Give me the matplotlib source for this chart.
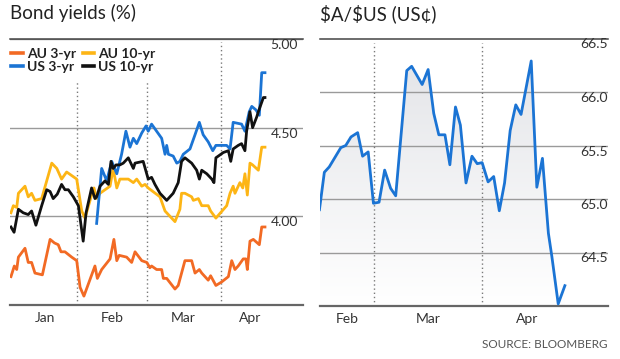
import matplotlib
matplotlib.use("Agg")
import matplotlib.pyplot as plt
import numpy as np
from matplotlib.lines import Line2D
from matplotlib.transforms import blended_transform_factory

plt.rcParams["font.family"] = ["Lato", "DejaVu Sans"]

# x values are day-of-year (2024)
au3_days = [4.4, 5.8, 6.8, 7.5, 10.25, 11.6, 13.0, 14.4, 17.5, 20.7, 22.5, 24.1, 25.25, 26.9, 29.7,
            31.8, 33.2, 34.8, 39.4, 40.4, 42.2, 45.7, 47.3, 48.5, 49.5, 52.6, 54.7, 56.1, 58.9, 61.0,
            62.3, 63.0, 65.1, 67.2, 67.9, 69.3, 72.75, 74.1, 75.5, 76.9, 79.7, 81.1, 82.9, 83.9, 86.6,
            87.6, 89.8, 92.2, 95.0, 96.4, 97.75, 99.1, 101.2, 102.3, 102.9, 104.0, 105.4, 107.9,
            108.9, 110.25]
au3_vals = [3.66, 3.72, 3.70, 3.77, 3.82, 3.74, 3.74, 3.68, 3.67, 3.87, 3.85, 3.84, 3.80, 3.80, 3.77,
            3.75, 3.60, 3.55, 3.72, 3.65, 3.70, 3.76, 3.87, 3.75, 3.78, 3.77, 3.74, 3.80, 3.75, 3.74,
            3.71, 3.72, 3.70, 3.70, 3.65, 3.65, 3.59, 3.61, 3.68, 3.75, 3.75, 3.68, 3.70, 3.68, 3.64,
            3.665, 3.61, 3.63, 3.66, 3.75, 3.70, 3.72, 3.76, 3.76, 3.70, 3.86, 3.87, 3.84,
            3.94, 3.94]

au10_days = [4.4, 5.4, 6.8, 7.5, 10.25, 11.6, 13.0, 14.4, 17.2, 21.4, 23.5, 25.5, 27.6, 31.8, 33.9,
             35.25, 38.0, 39.0, 40.1, 41.5, 45.7, 47.0, 48.5, 49.8, 53.3, 55.4, 56.8, 58.9, 60.25,
             61.6, 66.5, 68.6, 72.75, 74.8, 75.5, 76.9, 79.7, 80.4, 82.5, 83.9, 86.6, 87.6, 89.8,
             94.3, 95.7, 97.0, 97.75, 99.8, 101.0, 101.9, 102.9, 104.0, 105.1, 107.5, 108.9, 110.25]
au10_vals = [4.02, 4.06, 4.05, 4.13, 4.17, 4.11, 4.13, 4.09, 4.10, 4.30, 4.27, 4.21, 4.25, 4.21, 4.03,
             3.99, 4.12, 4.16, 4.10, 4.13, 4.17, 4.27, 4.16, 4.21, 4.21, 4.19, 4.21, 4.17, 4.18,
             4.16, 4.11, 4.03, 3.97, 4.04, 4.13, 4.13, 4.11, 4.09, 4.10, 4.06, 4.06, 4.03, 3.99,
             4.06, 4.13, 4.17, 4.13, 4.19, 4.16, 4.24, 4.12, 4.30, 4.29, 4.26, 4.39, 4.39]

us3_days = [40.1, 42.2, 44.3, 46.4, 48.5, 50.5, 52.3, 54.0, 55.4, 56.8, 58.9, 60.7, 61.6, 63.0, 65.1,
            67.2, 68.6, 69.3, 70.0, 72.0, 73.5, 74.8, 76.2, 79.0, 81.1, 82.9, 84.5, 86.6, 88.5, 89.8,
            94.3, 95.7, 97.0, 100.5, 101.9, 103.7, 104.75, 106.5, 107.9, 108.9, 110.25]
us3_vals = [3.96, 4.27, 4.20, 4.31, 4.24, 4.35, 4.48, 4.39, 4.44, 4.41, 4.47, 4.51, 4.48, 4.52, 4.48,
            4.44, 4.35, 4.40, 4.35, 4.34, 4.30, 4.31, 4.35, 4.38, 4.46, 4.53, 4.46, 4.42, 4.37, 4.40,
            4.40, 4.38, 4.53, 4.52, 4.48, 4.59, 4.62, 4.60, 4.57, 4.81, 4.81]

us10_days = [4.4, 5.7, 7.5, 9.5, 11.6, 13.0, 14.8, 17.2, 19.3, 20.7, 22.0, 23.7, 25.5, 26.9, 28.3,
             30.4, 32.5, 34.5, 35.7, 38.0, 39.4, 40.1, 41.5, 43.6, 45.0, 46.1, 47.0, 48.2, 49.8, 51.2,
             53.3, 55.4, 56.1, 59.5, 61.6, 63.0, 64.4, 66.5, 69.3, 72.0, 74.1, 75.5, 76.9, 79.7,
             81.8, 82.9, 83.9, 86.0, 88.1, 89.0, 89.8, 92.9, 95.0, 96.0, 97.0, 99.1, 100.5, 101.9,
             102.6, 104.0, 105.1, 106.8, 107.5, 109.6, 110.25]
us10_vals = [3.94, 3.91, 4.04, 4.02, 4.01, 4.03, 3.95, 4.06, 4.15, 4.14, 4.10, 4.125, 4.18, 4.15, 4.15,
             4.11, 4.06, 3.86, 4.02, 4.16, 4.10, 4.11, 4.17, 4.20, 4.18, 4.31, 4.27, 4.29, 4.29, 4.30,
             4.33, 4.27, 4.30, 4.31, 4.21, 4.22, 4.18, 4.13, 4.09, 4.13, 4.19, 4.31, 4.33, 4.30,
             4.26, 4.21, 4.26, 4.24, 4.21, 4.19, 4.33, 4.36, 4.37, 4.31, 4.38, 4.40, 4.41, 4.37,
             4.48, 4.59, 4.50, 4.56, 4.59, 4.67, 4.67]

aud_days = [45.5, 46.9, 48.3, 51.6, 53.0, 54.5, 56.4, 57.8, 59.4, 60.9, 62.5, 64.1, 65.8, 67.25,
            70.4, 71.8, 74.8, 76.5, 78.1, 79.55, 81.3, 82.7, 84.3, 85.7, 87.3, 89.0, 90.5, 91.9,
            93.6, 95.2, 96.8, 98.3, 99.9, 101.5, 103.0, 105.9, 107.5, 109.1, 110.8, 111.8, 113.6,
            115.5]
aud_vals = [64.90, 65.25, 65.30, 65.48, 65.50, 65.58, 65.62, 65.40, 65.44, 64.96, 64.97, 65.27, 65.10,
            65.03, 66.20, 66.24, 66.07, 66.21, 65.80, 65.60, 65.60, 65.32, 65.86, 65.69, 65.15,
            65.40, 65.33, 65.34, 65.16, 65.21, 64.89, 65.15, 65.64, 65.88, 65.79, 66.29, 65.11,
            65.38, 64.68, 64.46, 64.02, 64.19]

month_starts = [32, 61, 92]  # Feb 1, Mar 1, Apr 1
left_month_labels = ["Jan", "Feb", "Mar", "Apr"]
left_month_pos = [18.5, 46.5, 76, 104]
right_month_labels = ["Feb", "Mar", "Apr"]
right_month_pos = [53.3, 76.6, 104.8]
left_levels = [4.0, 4.5, 5.0]
right_levels = [64.5, 65.0, 65.5, 66.0, 66.5]

C_AU3 = "#f26a24"
C_AU10 = "#fdb515"
C_US3 = "#1b74d4"
C_US10 = "#111111"
GRID = "#9a9a9a"
TXT = "#333333"
DOTS = "#7a7a7a"

fig = plt.figure(figsize=(6.2, 3.59), dpi=100)
fig.patch.set_facecolor("white")

ax1 = fig.add_axes([10 / 620, 1 - 305 / 359, 293 / 620, 266 / 359])
ax2 = fig.add_axes([320 / 620, 1 - 306 / 359, 288 / 620, 267.5 / 359])


def style(ax, levels, label_x, fmt):
    for s in ["left", "right"]:
        ax.spines[s].set_visible(False)
    ax.spines["top"].set_color("#444444")
    ax.spines["top"].set_linewidth(1.1)
    ax.spines["bottom"].set_color("#666666")
    ax.spines["bottom"].set_linewidth(1.6)
    ax.set_yticks([])
    ax.tick_params(axis="x", length=0, pad=5, labelsize=10, labelcolor=TXT)
    tr = blended_transform_factory(ax.transAxes, ax.transData)
    for lv in levels:
        ax.axhline(lv, color=GRID, lw=1, zorder=1)
        ax.text(label_x, lv, fmt.format(lv), transform=tr, ha="right", va="top",
                fontsize=10, color=TXT)


# --- Bond yields
ax1.set_xlim(4, 126.1)
ax1.set_ylim(3.5, 5.0)
style(ax1, left_levels, 0.983, "{:.2f}")
ax1.axvline(month_starts[0], ymin=0, ymax=0.846, color=DOTS, lw=1, ls=(0, (1, 2)), zorder=1)
ax1.axvline(month_starts[1], ymin=0, ymax=0.846, color=DOTS, lw=1, ls=(0, (1, 2)), zorder=1)
ax1.axvline(month_starts[2], ymin=0, ymax=0.99, color=DOTS, lw=1, ls=(0, (1, 2)), zorder=1)
ax1.set_xticks(left_month_pos)
ax1.set_xticklabels(left_month_labels)

ax1.plot(au3_days, au3_vals, color=C_AU3, lw=2.0, zorder=3)
ax1.plot(au10_days, au10_vals, color=C_AU10, lw=2.0, zorder=3)
ax1.plot(us3_days, us3_vals, color=C_US3, lw=2.0, zorder=4)
ax1.plot(us10_days, us10_vals, color=C_US10, lw=2.0, zorder=5)

handles = [Line2D([], [], color=C_AU3, lw=2.6), Line2D([], [], color=C_US3, lw=2.6),
           Line2D([], [], color=C_AU10, lw=2.6), Line2D([], [], color=C_US10, lw=2.6)]
names = ["AU 3-yr", "US 3-yr", "AU 10-yr", "US 10-yr"]
leg = ax1.legend(handles, names, ncol=2, loc="upper left", bbox_to_anchor=(0.0, 0.973),
                 frameon=False, handlelength=0.8, handletextpad=0.3, columnspacing=0.5,
                 labelspacing=0.1, borderaxespad=0, borderpad=0.1,
                 prop={"size": 10, "weight": "bold"})
for t in leg.get_texts():
    t.set_color("#222222")

# --- AUD
ax2.set_xlim(45.66, 127.8)
ax2.set_ylim(64.0, 66.5)
style(ax2, right_levels[:-1], 0.998, "{:.1f}")
ax2.text(0.998, 66.5, "66.5", transform=blended_transform_factory(ax2.transAxes, ax2.transData),
         ha="right", va="top", fontsize=10, color=TXT)
for d in month_starts[1:]:
    ax2.axvline(d, ymin=0, ymax=0.985, color=DOTS, lw=1, ls=(0, (1, 2)), zorder=1)
ax2.set_xticks(right_month_pos)
ax2.set_xticklabels(right_month_labels)

poly = ax2.fill_between(aud_days, aud_vals, 64.0, color="none", lw=0)
grad = np.linspace(0, 1, 256).reshape(-1, 1)
cols = np.zeros((256, 1, 3))
top_c = np.array([0.885, 0.89, 0.905])
for i in range(3):
    cols[:, 0, i] = top_c[i] + (1 - top_c[i]) * grad[:, 0]
img = ax2.imshow(cols, extent=[45.66, 127.8, 64.0, 66.5], origin="upper", aspect="auto", zorder=0.5)
img.set_clip_path(poly.get_paths()[0], transform=ax2.transData)
ax2.set_xlim(45.66, 127.8)
ax2.set_ylim(64.0, 66.5)
ax2.plot(aud_days, aud_vals, color=C_US3, lw=2.0, zorder=3)

# --- titles and source
fig.text(10 / 620, 1 - 4 / 359, "Bond yields (%)", ha="left", va="top", fontsize=13.5, color="#222222")
fig.text(320 / 620, 1 - 4 / 359, r"\$A/\$US (US¢)", ha="left", va="top", fontsize=13.5, color="#222222")
fig.text(607 / 620, 1 - 345 / 359, "SOURCE: BLOOMBERG", ha="right", va="center", fontsize=8.5,
         color="#555555")

fig.savefig("out.png", dpi=100)
